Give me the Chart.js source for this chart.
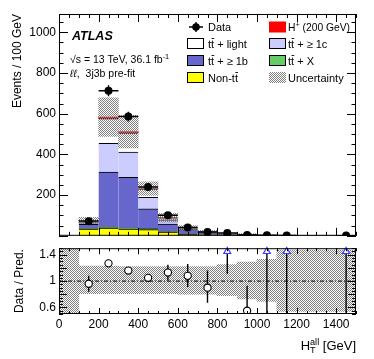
<!DOCTYPE html>
<html>
<head>
<meta charset="utf-8">
<script src="https://cdn.jsdelivr.net/npm/chart.js@4.4.0/dist/chart.umd.min.js"></script>
<style>
  html, body { margin: 0; padding: 0; background: #fff; }
  #wrap { position: relative; width: 374px; height: 359px; }
  #upper { position: absolute; left: 0; top: 0; }
  #lower { position: absolute; left: 0; top: 238px; }
</style>
</head>
<body>
<div id="wrap">
  <canvas id="lower" width="374" height="121"></canvas>
  <canvas id="upper" width="374" height="246"></canvas>
</div>
<script>
// bin centres (100 GeV bins)
const binCentres = [150, 250, 350, 450, 550, 650, 750, 850, 950, 1050, 1150, 1250, 1350, 1450];

// stacked prediction, events / 100 GeV
const nonTT   = [33, 38, 33, 30, 18, 8, 4, 2, 1.5, 0.4, 0.3, 0.2, 0.2, 0.3];
const ttX     = [3, 6, 6, 5, 3, 2, 1, 0.5, 0.4, 0.1, 0.1, 0.1, 0.05, 0.1];
const ttB     = [20, 269, 248, 98, 36, 20, 11, 4, 3.5, 0.8, 0.5, 0.4, 0.3, 0.4];
const ttC     = [9, 141, 124, 56, 21, 4, 3, 1, 1, 0.3, 0.2, 0.1, 0.1, 0.1];
const ttLight = [10, 122, 94, 41, 10, 4, 2, 1, 1, 0.3, 0.2, 0.1, 0.1, 0.1];
const hPlus   = [1, 7, 7, 2, 1, 0.5, 0.3, 0.2, 0.1, 0.05, 0.05, 0, 0, 0];
const predUnc = [15, 95, 80, 33, 22, 12, 6, 4, 3, 1.5, 1, 0.8, 0.8, 0.8];

// data
const dataVals = [72, 713, 586, 240, 101, 41, 19, 14, 4, 3, 2, null, null, 1];
const dataErr  = [8.5, 27, 24, 15.5, 10, 6.4, 4.4, 3.7, 2, 1.7, 1.4, null, null, 1];

// ratio panel
const bandCentres = [50, 150, 250, 350, 450, 550, 650, 750, 850, 950, 1050, 1150, 1250, 1350, 1450];
const bandLo = [0.5, 0.81, 0.81, 0.81, 0.81, 0.81, 0.80, 0.80, 0.78, 0.73, 0.69, 0.54, 0.54, 0.54, 0.54];
const bandHi = [1.5, 1.23, 1.23, 1.22, 1.22, 1.22, 1.22, 1.22, 1.25, 1.29, 1.33, 1.47, 1.47, 1.47, 1.47];
const ratioVals  = [0.96, 1.27, 1.16, 1.05, 1.13, 1.08, 0.9, 1.7, 0.55, 1.9, 1.8, null, null, 2.0];
const ratioErrLo = [0.12, 0.03, 0.03, 0.04, 0.12, 0.17, 0.23, 0.59, 0.55, 1.9, 1.8, null, null, 2.0];
const ratioErrHi = [0.12, 0.03, 0.03, 0.04, 0.12, 0.18, 0.26, 0.6, 0.38, 1, 1, null, null, 1];

// axis ticks
const xTicks = [0, 200, 400, 600, 800, 1000, 1200, 1400];
const yTicks = [200, 400, 600, 800, 1000];
const rTicks = [0.6, 0.8, 1, 1.2, 1.4];

const FONT = '"Liberation Sans", Arial, sans-serif';
const C_LIGHT = '#ffffff', C_C = '#ccccff', C_B = '#6666cc', C_X = '#66cc66', C_NON = '#ffff00', C_H = '#ff0000';

function makeHatch() {
  const c = document.createElement('canvas');
  c.width = 2; c.height = 2;
  const g = c.getContext('2d');
  g.fillStyle = '#808080';
  g.fillRect(0, 0, 1, 1);
  g.fillRect(1, 1, 1, 1);
  return g.createPattern(c, 'repeat');
}
const hatch = makeHatch();

const pts = (xs, ys) => xs.map((x, i) => ({ x: x, y: ys[i] }));
const total = binCentres.map((_, i) => nonTT[i] + ttX[i] + ttB[i] + ttC[i] + ttLight[i] + hPlus[i]);

const barBase = {
  type: 'bar', grouped: false, barPercentage: 1, categoryPercentage: 1,
  borderColor: '#000', borderWidth: { top: 1, left: 0, right: 0, bottom: 0 },
  stack: 'mc', order: 3,
};

// inward ticks on all four sides + frame
const frameTicks = {
  id: 'frameTicks',
  afterDraw(chart, args, o) {
    const { ctx, chartArea: a } = chart;
    const xs = chart.scales.x, ys = chart.scales.y;
    ctx.save();
    ctx.strokeStyle = '#000';
    ctx.lineWidth = 1;
    ctx.beginPath();
    const nx = Math.round((xs.max - xs.min) / o.xMinor);
    for (let i = 0; i <= nx; i++) {
      const v = xs.min + i * o.xMinor;
      const px = Math.round(xs.getPixelForValue(v)) + 0.5;
      const major = Math.abs(v / o.xMajor - Math.round(v / o.xMajor)) < 1e-6;
      const len = major ? o.xLen : o.xLen / 2;
      ctx.moveTo(px, a.bottom); ctx.lineTo(px, a.bottom - len);
      ctx.moveTo(px, a.top); ctx.lineTo(px, a.top + len);
    }
    const ny = Math.round((ys.max - ys.min) / o.yMinor);
    for (let i = 0; i <= ny; i++) {
      const v = ys.min + i * o.yMinor;
      if (v > ys.max + 1e-9) continue;
      const py = Math.round(ys.getPixelForValue(v)) + 0.5;
      const major = Math.abs(v / o.yMajor - Math.round(v / o.yMajor)) < 1e-6;
      const len = major ? o.yLen : o.yLen / 2;
      ctx.moveTo(a.left, py); ctx.lineTo(a.left + len, py);
      ctx.moveTo(a.right, py); ctx.lineTo(a.right - len, py);
    }
    ctx.stroke();
    ctx.strokeRect(a.left + 0.5, a.top + 0.5, a.width - 1, a.height - 1);
    ctx.restore();
  }
};

// vertical (and horizontal) error bars, drawn just before their markers
const errorBars = {
  id: 'errorBars',
  beforeDatasetDraw(chart, args) {
    const ds = chart.data.datasets[args.index];
    if (!ds.errLo) return;
    const { ctx, chartArea: a } = chart;
    const xs = chart.scales.x, ys = chart.scales.y;
    ctx.save();
    ctx.beginPath();
    ctx.rect(a.left, a.top, a.width, a.height);
    ctx.clip();
    ctx.strokeStyle = '#000';
    ctx.lineWidth = 1.4;
    ctx.beginPath();
    ds.data.forEach((p, i) => {
      if (p.y == null) return;
      const px = xs.getPixelForValue(p.x);
      const py = ys.getPixelForValue(p.y);
      ctx.moveTo(px, ys.getPixelForValue(p.y - ds.errLo[i]));
      ctx.lineTo(px, ys.getPixelForValue(p.y + ds.errHi[i]));
      if (ds.xErr) {
        ctx.moveTo(xs.getPixelForValue(p.x - ds.xErr), py);
        ctx.lineTo(xs.getPixelForValue(p.x + ds.xErr), py);
      }
    });
    ctx.stroke();
    ctx.restore();
  }
};

// text pieces: {t, sup, sub, bar, italic}
function drawRich(ctx, parts, x, y, size, align) {
  const fontOf = (p, s) => (p.italic ? 'italic ' : '') + (p.bold ? 'bold ' : '') + s + 'px ' + FONT;
  const widthOf = p => {
    ctx.font = fontOf(p, p.sup || p.sub ? size * 0.7 : size);
    return ctx.measureText(p.t).width;
  };
  let w = 0;
  parts.forEach(p => { if (!p.stackPrev) w += widthOf(p); });
  let cx = align === 'right' ? x - w : x;
  let prevX = cx;
  parts.forEach(p => {
    const s = p.sup || p.sub ? size * 0.7 : size;
    ctx.font = fontOf(p, s);
    const pw = ctx.measureText(p.t).width;
    const px = p.stackPrev ? prevX : cx;
    let py = y;
    if (p.sup) py = y - size * 0.42;
    if (p.sub) py = y + size * 0.22;
    ctx.fillText(p.t, px, py);
    if (p.bar) {
      ctx.fillRect(px + 0.5, py - size * 0.86, pw - 0.5, 0.9);
    }
    if (!p.stackPrev) { prevX = cx; cx += pw; }
  });
}

const tt = [{ t: 't' }, { t: 't', bar: true }];

const upperText = {
  id: 'upperText',
  afterDraw(chart) {
    const { ctx, chartArea: a } = chart;
    ctx.save();
    ctx.fillStyle = '#000';
    ctx.textBaseline = 'alphabetic';
    ctx.textAlign = 'left';
    const L = a.left, T = a.top;

    drawRich(ctx, [{ t: 'ATLAS', italic: true, bold: true }], L + 13, T + 25.5, 12.5);
    drawRich(ctx, [{ t: '\u221As = 13 TeV, 36.1 fb' }, { t: '-1', sup: true }], L + 11, T + 49, 10.5);
    drawRich(ctx, [{ t: '\u2113\u2113', italic: true }, { t: ',  3j3b pre-fit' }], L + 11, T + 63, 10.5);

    // legend
    const rows = [13, 29.5, 46.5, 63.5];
    const c1 = L + 128, c2 = L + 210;
    const box = (x, yc, fill, border) => {
      ctx.fillStyle = fill;
      ctx.fillRect(x, yc - 5.5, 17, 11);
      if (border) {
        ctx.strokeStyle = border;
        ctx.lineWidth = 1;
        ctx.strokeRect(x + 0.5, yc - 5 , 16, 10);
      }
    };
    const text = (parts, x, yc, size) => {
      ctx.fillStyle = '#000';
      drawRich(ctx, parts, x, yc + 4, size || 11);
    };

    // Data marker
    let yc = T + rows[0];
    ctx.strokeStyle = '#000';
    ctx.lineWidth = 1.4;
    ctx.beginPath();
    ctx.moveTo(c1 + 2, yc); ctx.lineTo(c1 + 16, yc);
    ctx.moveTo(c1 + 9, yc - 5); ctx.lineTo(c1 + 9, yc + 5);
    ctx.stroke();
    ctx.beginPath();
    ctx.arc(c1 + 9, yc, 3.8, 0, Math.PI * 2);
    ctx.fillStyle = '#000';
    ctx.fill();
    text([{ t: 'Data' }], c1 + 21, yc);

    box(c1, T + rows[1], C_LIGHT, '#000');
    text(tt.concat([{ t: ' + light' }]), c1 + 21, T + rows[1]);
    box(c1, T + rows[2], C_B, '#000');
    text(tt.concat([{ t: ' + \u2265 1b' }]), c1 + 21, T + rows[2]);
    box(c1, T + rows[3], C_NON, '#000');
    text([{ t: 'Non-' }].concat(tt), c1 + 21, T + rows[3]);

    box(c2, T + rows[0], C_H, null);
    text([{ t: 'H' }, { t: '+', sup: true }, { t: ' (200 GeV)' }], c2 + 19, T + rows[0], 10.3);
    box(c2, T + rows[1], C_C, '#000');
    text(tt.concat([{ t: ' + \u2265 1c' }]), c2 + 19, T + rows[1]);
    box(c2, T + rows[2], C_X, '#000');
    text(tt.concat([{ t: ' + X' }]), c2 + 19, T + rows[2]);
    box(c2, T + rows[3], hatch, null);
    text([{ t: 'Uncertainty' }], c2 + 19, T + rows[3]);

    ctx.restore();
  }
};

const lowerText = {
  id: 'lowerText',
  afterDraw(chart) {
    const { ctx, chartArea: a } = chart;
    ctx.save();
    ctx.fillStyle = '#000';
    ctx.textBaseline = 'alphabetic';
    ctx.textAlign = 'left';
    drawRich(ctx, [{ t: 'H' }, { t: 'all', sup: true }, { t: 'T', sub: true, stackPrev: true }, { t: ' [GeV]' }],
      a.right, a.bottom + 36, 13, 'right');
    ctx.restore();
  }
};

const setTicks = list => scale => { scale.ticks = list.map(v => ({ value: v })); };
const tickFont = { family: FONT, size: 12 };

// upper panel
new Chart(document.getElementById('upper'), {
  data: {
    datasets: [
      { ...barBase, label: 'Non-tt', data: pts(binCentres, nonTT), backgroundColor: C_NON },
      { ...barBase, label: 'tt+X', data: pts(binCentres, ttX), backgroundColor: C_X },
      { ...barBase, label: 'tt+>=1b', data: pts(binCentres, ttB), backgroundColor: C_B },
      { ...barBase, label: 'tt+>=1c', data: pts(binCentres, ttC), backgroundColor: C_C },
      { ...barBase, label: 'tt+light', data: pts(binCentres, ttLight), backgroundColor: C_LIGHT },
      { ...barBase, label: 'H+', data: pts(binCentres, hPlus), backgroundColor: C_H, borderWidth: 0 },
      {
        type: 'bar', label: 'Uncertainty', grouped: false, barPercentage: 1, categoryPercentage: 1,
        stack: 'unc', order: 2, backgroundColor: hatch, borderWidth: 0,
        data: binCentres.map((x, i) => ({ x: x, y: [total[i] - predUnc[i], total[i] + predUnc[i]] })),
      },
      {
        type: 'line', label: 'Data', showLine: false, order: 1,
        data: pts(binCentres, dataVals),
        errLo: dataErr, errHi: dataErr, xErr: 50,
        pointRadius: 4, pointHoverRadius: 4, pointBackgroundColor: '#000', pointBorderColor: '#000', pointBorderWidth: 0,
      },
    ],
  },
  options: {
    responsive: false,
    animation: false,
    events: [],
    layout: { padding: { top: 14, right: 18, bottom: 4, left: 0 } },
    plugins: {
      legend: { display: false },
      tooltip: { enabled: false },
      frameTicks: { xMinor: 50, xMajor: 200, xLen: 8, yMinor: 50, yMajor: 200, yLen: 9 },
    },
    scales: {
      x: {
        type: 'linear', min: 0, max: 1500, offset: false, display: false,
        afterBuildTicks: setTicks(xTicks),
      },
      y: {
        type: 'linear', min: 0, max: 1090, position: 'left',
        afterBuildTicks: setTicks(yTicks),
        afterFit: s => { s.width = 59; },
        grid: { display: false, drawTicks: false },
        border: { display: false },
        ticks: { color: '#000', font: tickFont, padding: 3, callback: v => String(v) },
        title: {
          display: true, text: 'Events / 100 GeV', align: 'end', color: '#000',
          font: { family: FONT, size: 12 }, padding: { top: 10, bottom: 0 },
        },
      },
    },
  },
  plugins: [frameTicks, errorBars, upperText],
});

// ratio panel
const rMax = 1.5;
const offScale = binCentres.filter((x, i) => ratioVals[i] != null && ratioVals[i] > rMax);

new Chart(document.getElementById('lower'), {
  data: {
    datasets: [
      {
        type: 'bar', label: 'band', grouped: false, barPercentage: 1, categoryPercentage: 1,
        order: 3, backgroundColor: hatch, borderWidth: 0,
        data: bandCentres.map((x, i) => ({ x: x, y: [bandLo[i], bandHi[i]] })),
      },
      {
        type: 'line', label: 'one', order: 2, borderColor: '#000', borderWidth: 1, borderDash: [4, 2, 1, 2],
        pointRadius: 0, data: [{ x: 0, y: 1 }, { x: 1500, y: 1 }],
      },
      {
        type: 'line', label: 'ratio', showLine: false, order: 1,
        data: pts(binCentres, ratioVals),
        errLo: ratioErrLo, errHi: ratioErrHi,
        pointRadius: 3.6, pointHoverRadius: 3.6, pointBackgroundColor: '#fff', pointBorderColor: '#000', pointBorderWidth: 1.1,
      },
      {
        type: 'line', label: 'arrows', showLine: false, order: 0, clip: false,
        data: offScale.map(x => ({ x: x, y: rMax - 0.05 })),
        pointStyle: 'triangle', pointRadius: 4, pointBackgroundColor: '#fff', pointBorderColor: '#3a3aff', pointBorderWidth: 1.2,
      },
    ],
  },
  options: {
    responsive: false,
    animation: false,
    events: [],
    layout: { padding: { top: 4, right: 18, bottom: 0, left: 0 } },
    plugins: {
      legend: { display: false },
      tooltip: { enabled: false },
      frameTicks: { xMinor: 50, xMajor: 200, xLen: 6, yMinor: 0.05, yMajor: 0.2, yLen: 8 },
    },
    scales: {
      x: {
        type: 'linear', min: 0, max: 1500, offset: false, position: 'bottom',
        afterBuildTicks: setTicks(xTicks),
        afterFit: s => { s.height = 45; },
        grid: { display: false, drawTicks: false },
        border: { display: false },
        ticks: { color: '#000', font: tickFont, padding: 3, maxRotation: 0, autoSkip: false, callback: v => String(v) },
      },
      y: {
        type: 'linear', min: 0.5, max: rMax, position: 'left',
        afterBuildTicks: setTicks(rTicks),
        afterFit: s => { s.width = 59; },
        grid: { display: false, drawTicks: false },
        border: { display: false },
        ticks: { color: '#000', font: tickFont, padding: 3, callback: v => String(+v.toFixed(2)) },
        title: {
          display: true, text: 'Data / Pred.', align: 'center', color: '#000',
          font: { family: FONT, size: 12 }, padding: { top: 12, bottom: 0 },
        },
      },
    },
  },
  plugins: [frameTicks, errorBars, lowerText],
});
</script>
</body>
</html>
